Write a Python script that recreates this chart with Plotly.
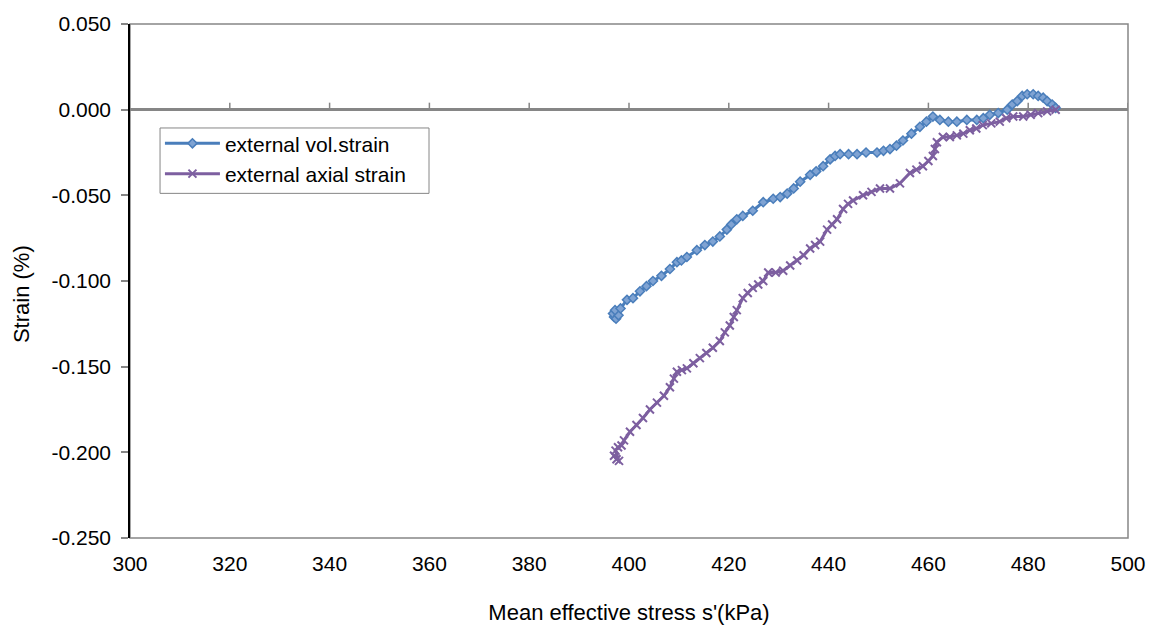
import plotly.graph_objects as go

# ---- data ----
vol_x = [397.0, 396.8, 397.4, 397.9, 397.2, 398.3, 399.6, 400.8, 402.2, 403.5, 404.8, 406.5, 408.2,
         409.6, 410.5, 411.6, 413.6, 415.2, 416.8, 418.2, 419.6, 420.5, 421.6, 422.8, 424.8, 426.9,
         428.9, 430.3, 431.7, 433.0, 434.3, 436.3, 437.5, 438.9, 440.3, 441.3, 442.3, 444.0, 445.7,
         447.5, 449.7, 451.0, 452.3, 453.6, 454.9, 456.6, 458.3, 459.6, 460.9, 462.3, 464.0, 465.7,
         467.7, 469.7, 471.0, 472.3, 474.0, 475.8, 476.8, 477.8, 478.8, 479.8, 481.0, 482.0, 483.0,
         483.8, 484.8, 485.5]
vol_y = [-0.121, -0.119, -0.122, -0.120, -0.117, -0.116, -0.111, -0.110, -0.106, -0.103, -0.100,
         -0.097, -0.093, -0.089, -0.088, -0.086, -0.082, -0.079, -0.077, -0.074, -0.070, -0.067,
         -0.064, -0.062, -0.059, -0.054, -0.052, -0.051, -0.049, -0.046, -0.042, -0.038, -0.036,
         -0.033, -0.029, -0.027, -0.026, -0.026, -0.026, -0.025, -0.025, -0.024, -0.023, -0.021,
         -0.018, -0.014, -0.010, -0.007, -0.004, -0.006, -0.007, -0.007, -0.006, -0.006, -0.005,
         -0.003, -0.002, 0.000, 0.003, 0.005, 0.008, 0.009, 0.009, 0.008, 0.007, 0.005, 0.003, 0.001]

ax_x = [397.5, 397.0, 398.0, 397.3, 397.8, 398.5, 399.0, 400.2, 401.5, 402.8, 404.2, 405.6, 407.0,
        408.2, 409.0, 409.6, 410.6, 411.6, 412.9, 414.2, 415.5, 416.8, 418.2, 419.2, 420.2, 421.0,
        421.6, 422.8, 423.8, 424.8, 425.9, 426.9, 427.9, 429.4, 430.9, 432.3, 433.7, 435.0, 436.3,
        437.3, 438.3, 439.7, 440.7, 441.7, 442.9, 443.9, 444.9, 446.9, 448.6, 450.3, 452.3, 454.3,
        456.3, 457.6, 458.9, 460.0, 460.9, 461.3, 461.7, 462.9, 464.3, 465.7, 467.0, 468.3, 469.6,
        470.9, 472.6, 474.3, 475.6, 477.0, 479.0, 480.5, 482.0, 483.8, 485.5]
ax_y = [-0.204, -0.202, -0.205, -0.199, -0.197, -0.196, -0.193, -0.188, -0.184, -0.180, -0.175,
        -0.171, -0.167, -0.162, -0.157, -0.153, -0.152, -0.151, -0.148, -0.145, -0.142, -0.139,
        -0.135, -0.130, -0.126, -0.121, -0.117, -0.110, -0.107, -0.104, -0.102, -0.100, -0.095,
        -0.095, -0.094, -0.091, -0.088, -0.085, -0.081, -0.079, -0.077, -0.070, -0.067, -0.064,
        -0.058, -0.055, -0.053, -0.050, -0.048, -0.046, -0.046, -0.043, -0.037, -0.035, -0.033,
        -0.030, -0.027, -0.023, -0.019, -0.016, -0.016, -0.015, -0.014, -0.012, -0.011, -0.009,
        -0.008, -0.007, -0.005, -0.004, -0.004, -0.003, -0.002, -0.001, 0.000]

x_ticks = [300, 320, 340, 360, 380, 400, 420, 440, 460, 480, 500]
y_ticks = [0.05, 0.0, -0.05, -0.1, -0.15, -0.2, -0.25]
y_tick_labels = ["0.050", "0.000", "-0.050", "-0.100", "-0.150", "-0.200", "-0.250"]

BLUE = "#4A7EBB"
PURPLE = "#7D5FA0"
GRAY = "#868686"
FONT = "Liberation Sans, Arial, sans-serif"

fig = go.Figure()
fig.add_trace(go.Scatter(
    x=vol_x, y=vol_y, mode="lines+markers", name="external vol.strain",
    line=dict(color=BLUE, width=3),
    marker=dict(symbol="diamond", size=7, color="#7FA3D3", line=dict(color=BLUE, width=1.5)),
))
fig.add_trace(go.Scatter(
    x=ax_x, y=ax_y, mode="lines+markers", name="external axial strain",
    line=dict(color=PURPLE, width=3),
    marker=dict(symbol="x-thin", size=8, color=PURPLE, line=dict(color=PURPLE, width=2)),
))

# plot-area border (gray)
fig.add_shape(type="rect", xref="x domain", yref="y domain", x0=0, x1=1, y0=0, y1=1,
              line=dict(color=GRAY, width=1.5), layer="below")
# legend frame
fig.add_shape(type="rect", xref="paper", yref="paper", x0=0.0301, x1=0.2996, y0=0.6705, y1=0.7977,
              line=dict(color=GRAY, width=1), fillcolor="white", layer="below")
# tick marks on the zero line
for t in x_ticks[1:]:
    fig.add_shape(type="line", xref="x", yref="y", x0=t, x1=t, y0=0, y1=7,
                  ysizemode="pixel", yanchor=0, line=dict(color=GRAY, width=1.5), layer="below")

fig.add_annotation(text="Strain (%)", xref="paper", yref="paper", x=-0.108, y=0.475,
                   textangle=-90, showarrow=False, xanchor="center", yanchor="middle",
                   font=dict(family=FONT, size=22, color="black"))

fig.update_layout(
    width=1158, height=633,
    margin=dict(l=130, r=30, t=20, b=94),
    paper_bgcolor="white", plot_bgcolor="white",
    font=dict(family=FONT, size=21, color="black"),
    showlegend=True,
    legend=dict(x=0.03, y=0.807, xanchor="left", yanchor="top",
                borderwidth=0, bgcolor="rgba(0,0,0,0)",
                font=dict(family=FONT, size=21), tracegroupgap=0, itemwidth=55),
    xaxis=dict(range=[300, 500], tickvals=x_ticks, ticks="outside", ticklen=7,
               tickcolor="rgba(0,0,0,0)", showgrid=False, zeroline=False, showline=False,
               title=dict(text="Mean effective stress s'(kPa)", standoff=30,
                          font=dict(family=FONT, size=22, color="black")),
               tickfont=dict(family=FONT, size=21)),
    yaxis=dict(range=[-0.25, 0.05], tickvals=y_ticks, ticktext=y_tick_labels,
               ticks="outside", ticklen=7, tickcolor=GRAY, tickwidth=1.5,
               showline=True, linecolor="black", linewidth=1.5,
               showgrid=False, zeroline=True, zerolinecolor=GRAY, zerolinewidth=2.5,
               tickfont=dict(family=FONT, size=21), ticklabelstandoff=6),
)

fig.write_html("out.html")
